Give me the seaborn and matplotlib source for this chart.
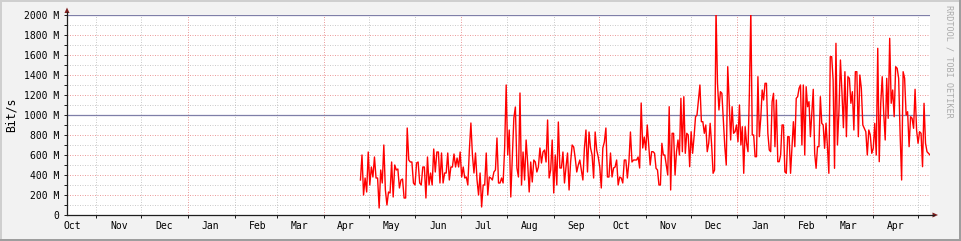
import matplotlib
matplotlib.use("Agg")
import matplotlib.pyplot as plt
from matplotlib.patches import Polygon, Rectangle
from matplotlib.lines import Line2D
import numpy as np
import pandas as pd
import seaborn as sns

# ---------------- data (Mbit/s) ----------------
traffic_part1 = [350, 600, 200, 370, 230, 630, 300, 480, 380, 580, 370, 370, 70, 450, 320, 700,
                 250, 100, 230, 220, 530, 180, 500, 450, 460, 270, 350, 360, 170, 170, 870, 550,
                 530, 530, 320, 300, 520, 530, 320, 300, 480, 480, 170, 580, 300, 420, 300, 660,
                 430, 630, 630, 320, 620, 320, 420, 420, 620, 350, 480, 480, 610]
traffic_part2 = [480, 570, 480, 630, 380, 480, 370, 380, 300, 650, 920, 600, 420, 620, 350, 200,
                 420, 80, 300, 300, 620, 200, 380, 370, 350, 430, 450, 770, 320, 320, 370, 320,
                 670, 1300, 600, 850, 180, 580, 970, 1080, 470, 380, 1220, 300, 630, 350, 750,
                 520, 230, 530, 330, 550, 530, 430, 480, 670, 520, 630, 650, 530, 950, 370]
traffic_part3 = [450, 750, 220, 600, 300, 930, 470, 470, 630, 320, 480, 620, 250, 530, 700, 680,
                 570, 430, 500, 550, 450, 350, 670, 850, 430, 830, 670, 600, 370, 830, 650, 580,
                 480, 270, 670, 730, 870, 380, 380, 620, 380, 470, 480, 550, 300, 380, 370, 320,
                 550, 550, 370, 530, 830, 530, 550, 550, 550, 580, 470, 1120, 670, 780]
traffic_part4 = [650, 900, 700, 500, 633, 633, 617, 467, 450, 300, 300, 717, 600, 600, 500, 400,
                 1083, 250, 817, 817, 400, 633, 750, 600, 1167, 633, 1183, 617, 817, 800, 483,
                 833, 617, 783, 983, 1000, 1150, 1300, 933, 933, 817, 900, 633, 717, 917, 700,
                 417, 450, 2050, 1317, 1050, 1233, 1217, 950, 683, 500, 1483, 1133, 750, 1083,
                 817, 833, 900, 733, 1100]
traffic_part5 = [700, 883, 417, 883, 717, 633, 1233, 2050, 800, 800, 583, 583, 1383, 783, 967,
                 1250, 1150, 1317, 1317, 817, 650, 633, 1133, 1217, 683, 1150, 533, 533, 600,
                 900, 900, 433, 417, 783, 783, 417, 683, 933, 683, 1167, 1183, 1267, 1300, 700,
                 1300, 600, 1283, 1083, 1133, 783, 1017, 1257, 617, 467, 683, 683, 1183, 917,
                 900, 667, 917, 683, 417, 1583, 1583, 1350, 467]
traffic_part6 = [1717, 700, 1033, 1550, 1233, 873, 1433, 783, 1383, 1367, 1117, 1233, 850, 1433,
                 1433, 783, 1400, 1267, 900, 867, 833, 600, 850, 800, 617, 667, 917, 600, 1667,
                 533, 1117, 1383, 1017, 750, 1367, 967, 1767, 1117, 1250, 983, 1483, 1467, 1367,
                 800, 350, 1433, 1367, 1000, 1033, 683, 983, 967, 867, 1257, 850, 717, 833, 817,
                 483, 1117, 717, 633, 617, 600]
traffic_parts = [traffic_part1, traffic_part2, traffic_part3,
                 traffic_part4, traffic_part5, traffic_part6]
# time stamps bounding each chunk of readings
part_bounds = ["2009-04-25 12:00", "2009-06-27 17:00", "2009-08-29 22:00",
               "2009-11-01 03:00", "2010-01-03 08:00", "2010-03-07 12:00",
               "2010-05-09 00:00"]

view_start = "2008-10-12 12:00"
view_end = "2010-05-09 00:00"

month_labels = ["Oct", "Nov", "Dec", "Jan", "Feb", "Mar", "Apr", "May", "Jun", "Jul",
                "Aug", "Sep", "Oct", "Nov", "Dec", "Jan", "Feb", "Mar", "Apr"]
y_ticks = [0, 200, 400, 600, 800, 1000, 1200, 1400, 1600, 1800, 2000]
y_labels = ["0", "200 M", "400 M", "600 M", "800 M", "1000 M", "1200 M",
            "1400 M", "1600 M", "1800 M", "2000 M"]
hrules = [1000, 2000]

times = []
for i, part in enumerate(traffic_parts):
    last = i == len(traffic_parts) - 1
    rng = pd.date_range(part_bounds[i], part_bounds[i + 1],
                        periods=len(part) if last else len(part) + 1)
    times.extend(list(rng if last else rng[:-1]))
df = pd.DataFrame({"time": times, "bits": sum(traffic_parts, [])})

# ---------------- figure ----------------
W, H = 961, 241
BG = "#F2F2F2"
GRID = (0.56, 0.56, 0.56, 0.45)
MGRID = (0.87, 0.31, 0.31, 0.55)
AXIS = "#1F1F1F"
ARROW = "#801F1F"
mono = "DejaVu Sans Mono"

fig = plt.figure(figsize=(W / 100, H / 100), dpi=100, facecolor=BG)
L, R, T, B = 67, 930, 15, 215
ax = fig.add_axes([L / W, 1 - B / H, (R - L) / W, (B - T) / H])
ax.set_facecolor("white")

vs, ve = pd.Timestamp(view_start), pd.Timestamp(view_end)
ax.set_xlim(vs, ve)
ax.set_ylim(0, 2000)

# horizontal grid
for v in range(100, 2000, 100):
    if v % 200 == 0:
        ax.axhline(v, color=MGRID, lw=0.72, ls=(0, (1, 1.5)), zorder=1)
    else:
        ax.axhline(v, color=GRID, lw=0.72, ls=(0, (1, 1.5)), zorder=1)
for v in hrules:
    ax.axhline(v, color="#7F7FA8", lw=0.9, zorder=2)

# vertical grid
month_starts = pd.date_range("2008-11-01", "2010-05-01", freq="MS")
for m in month_starts:
    if m.month in (1, 4, 7, 10):
        ax.axvline(m, color=MGRID, lw=0.72, ls=(0, (1, 1.5)), zorder=1)
    else:
        ax.axvline(m, color=GRID, lw=0.72, ls=(0, (1, 1.5)), zorder=1)

sns.lineplot(data=df, x="time", y="bits", ax=ax, color="#FF0000", linewidth=1.0,
             zorder=3, legend=False)

# ticks
label_pos = pd.date_range("2008-10-01", periods=len(month_labels), freq="MS") + pd.Timedelta(days=15)
ax.set_xticks(label_pos)
ax.set_xticklabels(month_labels, fontfamily=mono, fontsize=7, color="black")
ax.set_xticks(month_starts, minor=True)
ax.tick_params(axis="x", which="major", length=0, pad=4)
ax.tick_params(axis="x", which="minor", length=2, width=0.72, color=AXIS, direction="out")
ax.set_yticks(y_ticks)
ax.set_yticklabels(y_labels, fontfamily=mono, fontsize=7, color="black")
ax.set_yticks(range(100, 2000, 200), minor=True)
ax.tick_params(axis="y", which="both", length=2, width=0.72, color=AXIS, pad=3.5)
ax.set_xlabel("")
ax.set_ylabel("")

for s in ax.spines.values():
    s.set_visible(False)

def fx(x):
    return x / W

def fy(y):
    return 1 - y / H

fig.text(fx(11.5), fy(115), "Bit/s", rotation=90, ha="center", va="center",
         fontfamily=mono, fontsize=8.3, color="black")

# axes lines with arrows
fig.add_artist(Line2D([fx(L), fx(L)], [fy(B), fy(12)], color=AXIS, lw=0.9))
fig.add_artist(Line2D([fx(L), fx(934)], [fy(B), fy(B)], color=AXIS, lw=0.9))
fig.add_artist(Polygon([[fx(L - 2.5), fy(13)], [fx(L + 2.5), fy(13)], [fx(L), fy(7.5)]],
                       closed=True, color=ARROW, lw=0))
fig.add_artist(Polygon([[fx(932.5), fy(B - 2.5)], [fx(932.5), fy(B + 2.5)], [fx(938), fy(B)]],
                       closed=True, color=ARROW, lw=0))

# watermark
fig.text(fx(949.5), fy(5), "RRDTOOL / TOBI OETIKER", rotation=270, ha="center", va="top",
         fontfamily=mono, fontsize=6.1, color="#ABABAB")

# 3D border
fig.add_artist(Rectangle((0, 1 - 2 / H), 1, 2 / H, transform=fig.transFigure, color="#CFCFCF", lw=0))
fig.add_artist(Rectangle((0, 0), 2 / W, 1, transform=fig.transFigure, color="#CFCFCF", lw=0))
fig.add_artist(Rectangle((0, 0), 1, 2.5 / H, transform=fig.transFigure, color="#9E9E9E", lw=0))
fig.add_artist(Rectangle((1 - 2.5 / W, 0), 2.5 / W, 1, transform=fig.transFigure, color="#9E9E9E", lw=0))

fig.savefig("out.png", dpi=100, facecolor=BG)
